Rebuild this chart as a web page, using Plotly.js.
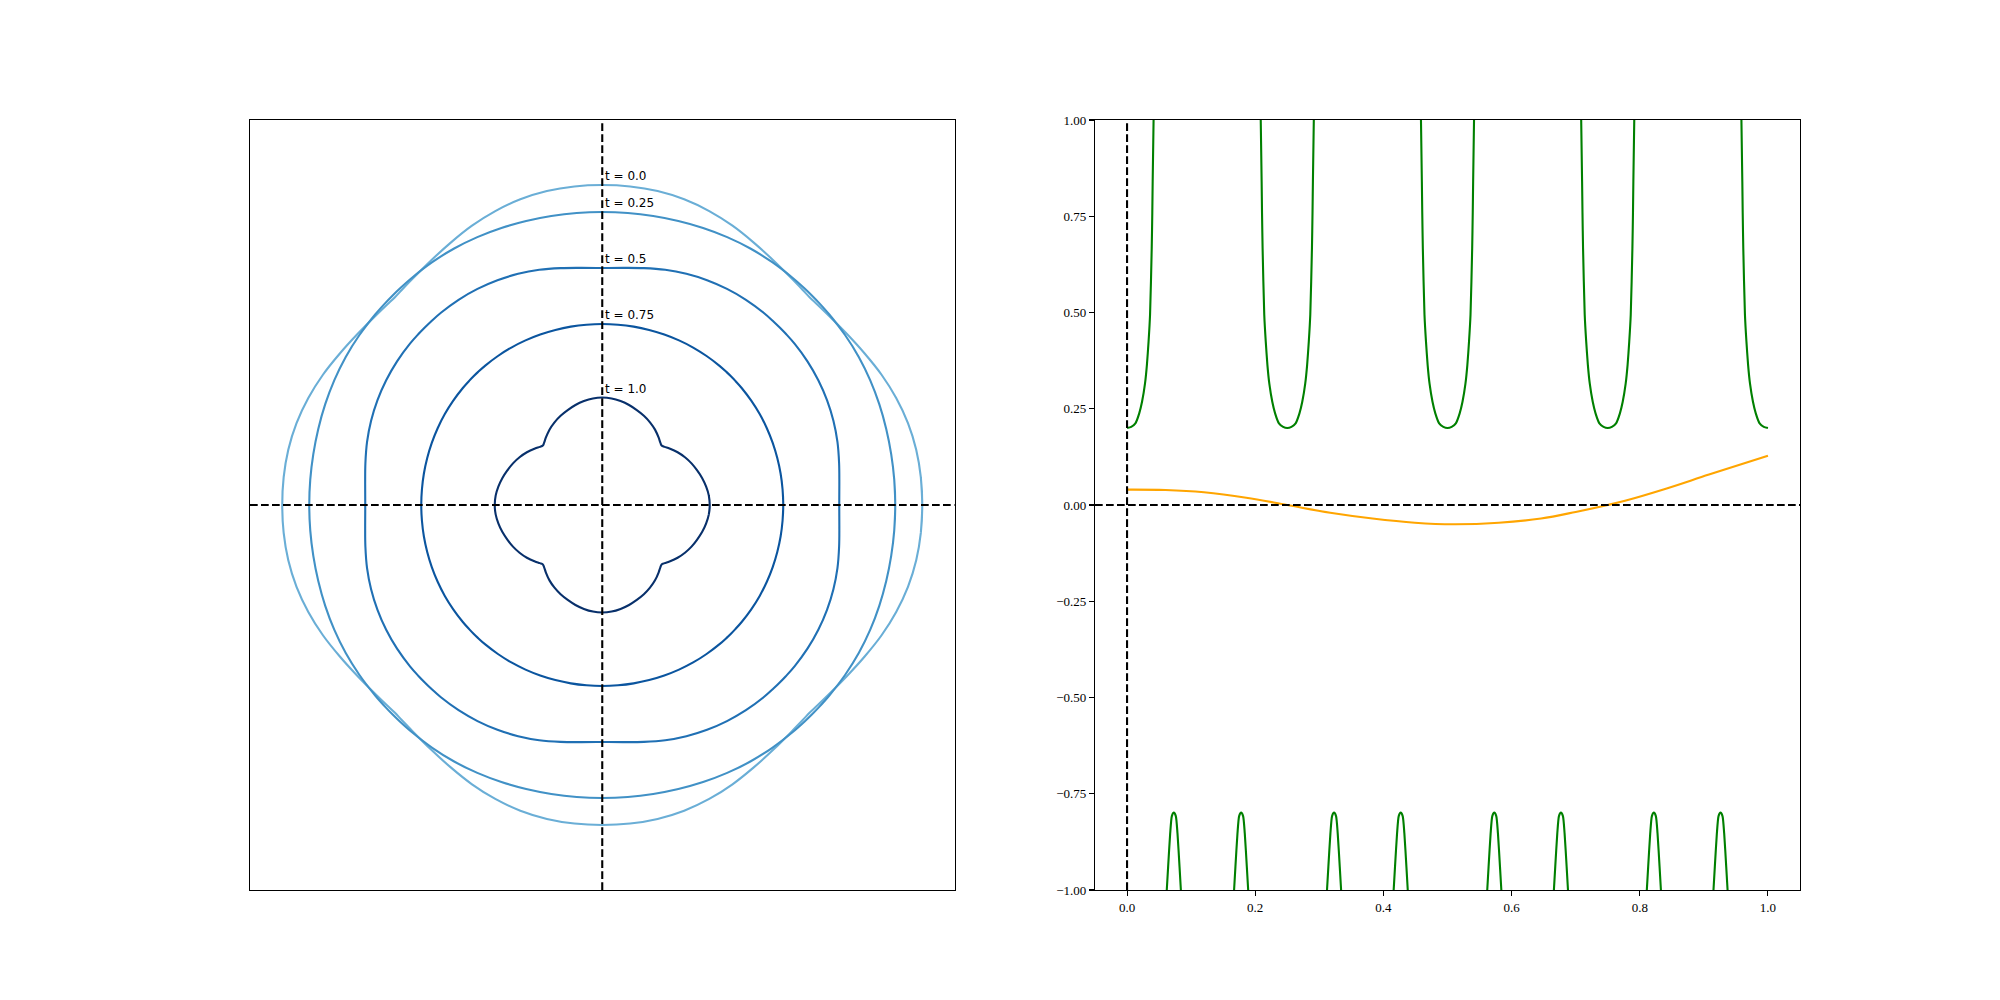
<!DOCTYPE html>
<html>
<head>
<meta charset="utf-8">
<script src="https://cdn.plot.ly/plotly-3.0.1.min.js"></script>
<style>
  html, body { margin: 0; padding: 0; background: #fff; }
  #plotly-div { width: 2000px; height: 1000px; }
</style>
</head>
<body>
<div id="plotly-div"></div>
<script>
// left panel: radius of each curve read in one octant (deg), the shapes repeat by symmetry
var thetaOct = [0, 5, 10, 15, 20, 25, 30, 35, 40, 43, 45];
var rT00  = [3.200, 3.198, 3.188, 3.165, 3.128, 3.082, 3.030, 2.985, 2.952, 2.940, 2.935];
var rT025 = [2.930, 2.931, 2.934, 2.940, 2.948, 2.956, 2.962, 2.964, 2.964, 2.964, 2.964];
var rT05  = [2.370, 2.380, 2.405, 2.435, 2.460, 2.480, 2.495, 2.505, 2.510, 2.510, 2.510];
var rT075 = [1.810, 1.810, 1.811, 1.812, 1.814, 1.816, 1.818, 1.819, 1.820, 1.820, 1.820];
var rT10  = [1.075, 1.070, 1.055, 1.035, 1.010, 0.985, 0.955, 0.920, 0.878, 0.852, 0.840];
var curveLabels = ['t = 0.0', 't = 0.25', 't = 0.5', 't = 0.75', 't = 1.0'];
var curveColors = ['#6aaed6', '#4191c6', '#2070b4', '#0b559f', '#08306b'];

// right panel: green curve, one U-shaped branch (offset from its centre) and one small arch
var uOffset = [0, 0.0065, 0.013, 0.019, 0.0234, 0.028, 0.031, 0.0336, 0.0359, 0.0385, 0.0394, 0.040, 0.0414];
var uY      = [0.200, 0.203, 0.212, 0.238, 0.268, 0.315, 0.364, 0.425, 0.494, 0.667, 0.760, 0.840, 1.0];
var uCenters = [0, 0.25, 0.5, 0.75, 1.0];
var archOffset = [0, 0.0031, 0.0057, 0.0089, 0.011];
var archY      = [-0.799, -0.808, -0.853, -0.94, -1.0];
var archCenters = [0.073, 0.178, 0.323, 0.427, 0.573, 0.677, 0.822, 0.926];

// orange curve
var orangeX = [0, 0.06, 0.12, 0.186, 0.25, 0.317, 0.383, 0.449, 0.51, 0.58, 0.646, 0.70, 0.75, 0.777, 0.842, 0.908, 1.0];
var orangeY = [0.040, 0.039, 0.033, 0.019, 0.0, -0.020, -0.035, -0.046, -0.050, -0.046, -0.035, -0.018, 0.0, 0.011, 0.043, 0.079, 0.128];

var xTicks = [0, 0.2, 0.4, 0.6, 0.8, 1.0];
var xTickText = ['0.0', '0.2', '0.4', '0.6', '0.8', '1.0'];
var yTicks = [-1, -0.75, -0.5, -0.25, 0, 0.25, 0.5, 0.75, 1];
var yTickText = ['\u22121.00', '\u22120.75', '\u22120.50', '\u22120.25', '0.00', '0.25', '0.50', '0.75', '1.00'];

function ring(r) {
    var th = [], rr = [];
    for (var i = 0; i < thetaOct.length; i++) { th.push(thetaOct[i]); rr.push(r[i]); }
    for (var i = thetaOct.length - 2; i >= 0; i--) { th.push(90 - thetaOct[i]); rr.push(r[i]); }
    var x = [], y = [];
    for (var q = 0; q < 4; q++) {
        for (var k = 0; k < th.length - 1; k++) {
            var a = (th[k] + 90 * q) * Math.PI / 180;
            x.push(rr[k] * Math.cos(a));
            y.push(rr[k] * Math.sin(a));
        }
    }
    var n = x.length;
    // wrap one point past each end so the spline closes smoothly
    x.unshift(x[n - 1]); y.unshift(y[n - 1]);
    x.push(x[1], x[2]); y.push(y[1], y[2]);
    return {x: x, y: y};
}

var data = [];
var annotations = [];
var radii = [rT00, rT025, rT05, rT075, rT10];
for (var c = 0; c < radii.length; c++) {
    var p = ring(radii[c]);
    data.push({
        x: p.x, y: p.y, xaxis: 'x', yaxis: 'y',
        type: 'scatter', mode: 'lines',
        line: {color: curveColors[c], width: 2.1, shape: 'spline', smoothing: 1},
        hoverinfo: 'skip', showlegend: false
    });
    annotations.push({
        xref: 'x', yref: 'y', x: 0, y: radii[c][0],
        text: curveLabels[c], showarrow: false,
        xanchor: 'left', yanchor: 'bottom', xshift: 1,
        font: {family: 'DejaVu Sans', size: 12, color: '#000'}
    });
}

// green curve assembled from the branches, gaps between them
var gx = [], gy = [];
for (var u = 0; u < uCenters.length; u++) {
    var cx = uCenters[u];
    if (cx > 0) {
        for (var k = uOffset.length - 1; k >= 0; k--) { gx.push(cx - uOffset[k]); gy.push(uY[k]); }
    }
    if (cx < 1) {
        for (var k = (cx > 0 ? 1 : 0); k < uOffset.length; k++) { gx.push(cx + uOffset[k]); gy.push(uY[k]); }
    }
    gx.push(null); gy.push(null);
}
for (var a = 0; a < archCenters.length; a++) {
    var ac = archCenters[a];
    for (var k = archOffset.length - 1; k >= 0; k--) { gx.push(ac - archOffset[k]); gy.push(archY[k]); }
    for (var k = 1; k < archOffset.length; k++) { gx.push(ac + archOffset[k]); gy.push(archY[k]); }
    gx.push(null); gy.push(null);
}

data.push({
    x: gx, y: gy, xaxis: 'x2', yaxis: 'y2',
    type: 'scatter', mode: 'lines', connectgaps: false,
    line: {color: '#008000', width: 2.1, shape: 'spline', smoothing: 0.6},
    hoverinfo: 'skip', showlegend: false
});
data.push({
    x: orangeX, y: orangeY, xaxis: 'x2', yaxis: 'y2',
    type: 'scatter', mode: 'lines',
    line: {color: '#FFA500', width: 2.1, shape: 'spline'},
    hoverinfo: 'skip', showlegend: false
});

var dash = '7.7px,3.3px';
var shapes = [
    {type: 'line', xref: 'x', yref: 'y domain', x0: 0, x1: 0, y0: 0, y1: 1, line: {color: '#000', width: 2.1, dash: dash}},
    {type: 'line', xref: 'x domain', yref: 'y', x0: 0, x1: 1, y0: 0, y1: 0, line: {color: '#000', width: 2.1, dash: dash}},
    {type: 'line', xref: 'x2', yref: 'y2 domain', x0: 0, x1: 0, y0: 0, y1: 1, line: {color: '#000', width: 2.1, dash: dash}},
    {type: 'line', xref: 'x2 domain', yref: 'y2', x0: 0, x1: 1, y0: 0, y1: 0, line: {color: '#000', width: 2.1, dash: dash}}
];

var tickFont = {family: 'Liberation Serif', size: 13, color: '#000'};
var layout = {
    width: 2000, height: 1000,
    margin: {l: 0, r: 0, t: 0, b: 0},
    paper_bgcolor: '#fff', plot_bgcolor: '#fff',
    showlegend: false,
    xaxis: {
        domain: [0.125, 0.47725], range: [-3.5225, 3.5225],
        showgrid: false, zeroline: false, showticklabels: false, ticks: '',
        showline: true, mirror: true, linecolor: '#000', linewidth: 1.1
    },
    yaxis: {
        domain: [0.11, 0.88], range: [-3.85, 3.85],
        showgrid: false, zeroline: false, showticklabels: false, ticks: '',
        showline: true, mirror: true, linecolor: '#000', linewidth: 1.1
    },
    xaxis2: {
        domain: [0.5475, 0.9], range: [-0.05, 1.05], anchor: 'y2',
        showgrid: false, zeroline: false,
        tickvals: xTicks, ticktext: xTickText, tickfont: tickFont,
        ticks: 'outside', ticklen: 5, tickwidth: 1.1, tickcolor: '#000',
        showline: true, mirror: true, linecolor: '#000', linewidth: 1.1
    },
    yaxis2: {
        domain: [0.11, 0.88], range: [-1, 1], anchor: 'x2',
        showgrid: false, zeroline: false,
        tickvals: yTicks, ticktext: yTickText, tickfont: tickFont,
        ticks: 'outside', ticklen: 5, tickwidth: 1.1, tickcolor: '#000',
        showline: true, mirror: true, linecolor: '#000', linewidth: 1.1
    },
    shapes: shapes,
    annotations: annotations
};

Plotly.newPlot('plotly-div', data, layout, {staticPlot: true});
</script>
</body>
</html>
